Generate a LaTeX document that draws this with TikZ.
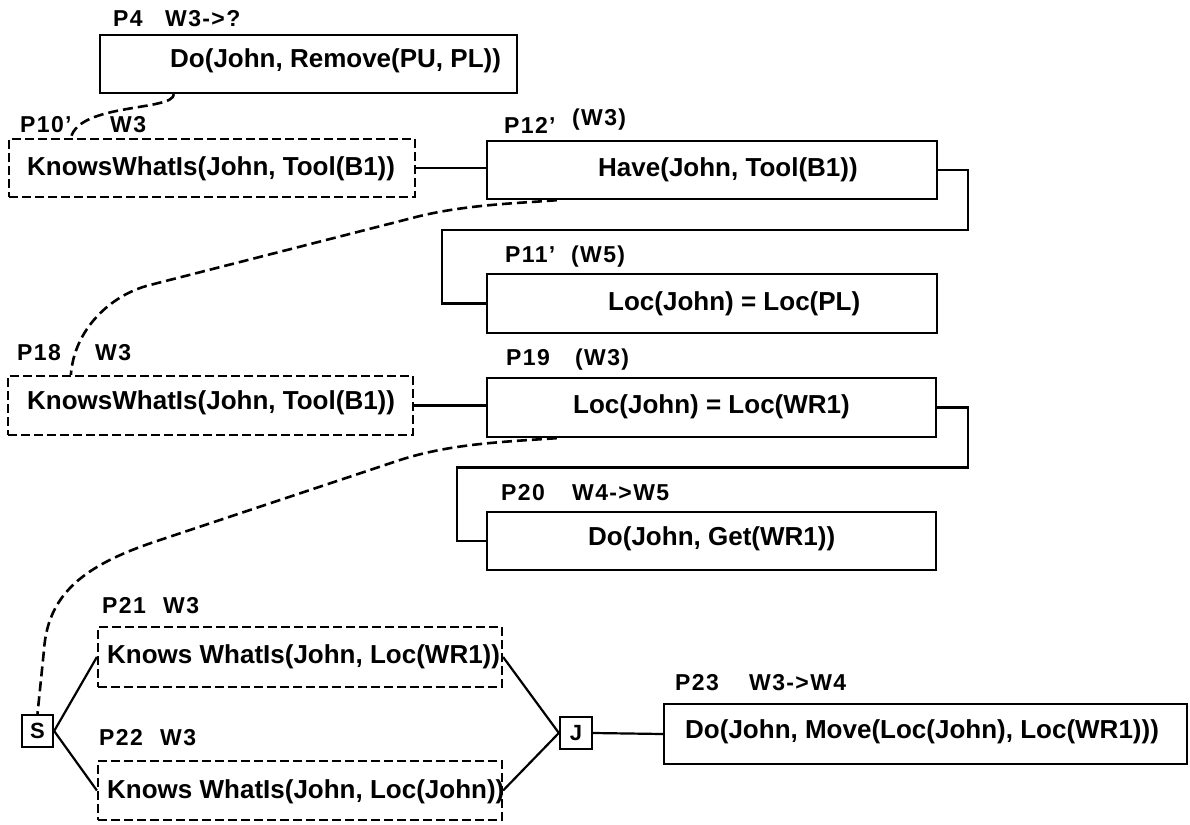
\documentclass[tikz,border=0pt]{standalone}
\usepackage{fontspec}
\setmainfont{Liberation Sans}
\newfontfamily\labfont[LetterSpace=6]{Liberation Sans}
\usetikzlibrary{calc}
\tikzset{
  box/.style={draw, line width=2.3pt, inner sep=0pt},
  dbox/.style={draw, line width=2.2pt, dash pattern=on 9pt off 4pt, inner sep=0pt},
  txt/.style={anchor=base west, inner sep=0pt, font=\fontsize{26}{30}\selectfont\bfseries},
  lab/.style={anchor=base west, inner sep=0pt, font=\labfont\fontsize{23}{27}\selectfont\bfseries},
  wire/.style={line width=2.2pt},
  dcurve/.style={line width=2.6pt, dash pattern=on 10pt off 5pt},
  sj/.style={draw, line width=2.3pt, minimum width=31pt, minimum height=32pt, inner sep=0pt, font=\fontsize{22}{24}\selectfont\bfseries},
}
\begin{document}
\begin{tikzpicture}[x=1pt,y=-1pt]
\useasboundingbox (0,0) rectangle (1190,824);

% boxes
\node[box,  minimum width=417pt, minimum height=58pt] (P4)  at (308.5,64) {};
\node[dbox, minimum width=406pt, minimum height=58pt] (P10) at (212,168) {};
\node[box,  minimum width=450pt, minimum height=58pt] (P12) at (712,170) {};
\node[box,  minimum width=450pt, minimum height=59pt] (P11) at (712,303.5) {};
\node[dbox, minimum width=405pt, minimum height=59pt] (P18) at (210.5,405.5) {};
\node[box,  minimum width=449pt, minimum height=59pt] (P19) at (711.5,407.5) {};
\node[box,  minimum width=449pt, minimum height=58pt] (P20) at (711.5,541) {};
\node[dbox, minimum width=404pt, minimum height=60pt] (P21) at (300,657) {};
\node[dbox, minimum width=404pt, minimum height=59pt] (P22) at (300,790.5) {};
\node[box,  minimum width=523pt, minimum height=60pt] (P23) at (925.5,734) {};
\node[sj] (S) at (37.5,731) {S};
\node[sj, minimum width=32pt] (J) at (576,733) {J};

% box texts
\node[txt] (t4)  at (170,68)  {Do(John, Remove(PU, PL))};
\node[txt] (t10) at (27,175)  {KnowsWhatIs(John, Tool(B1))};
\node[txt] (t12) at (598,176) {Have(John, Tool(B1))};
\node[txt] (t11) at (608,310) {Loc(John) = Loc(PL)};
\node[txt] (t18) at (27,409)  {KnowsWhatIs(John, Tool(B1))};
\node[txt] (t19) at (573,413) {Loc(John) = Loc(WR1)};
\node[txt] (t20) at (588,545) {Do(John, Get(WR1))};
\node[txt] (t21) at (107,663) {Knows WhatIs(John, Loc(WR1))};
\node[txt] (t22) at (107,798) {Knows WhatIs(John, Loc(John))};
\node[txt] (t23) at (685,738) {Do(John, Move(Loc(John), Loc(WR1)))};

% labels
\node[lab] (l4a)  at (113,27)  {P4};
\node[lab] (l4b)  at (165,27)  {W3->?};
\node[lab] (l10a) at (20,132)  {P10’};
\node[lab] (l10b) at (110,132) {W3};
\node[lab] (l12a) at (504,133) {P12’};
\node[lab] (l12b) at (572,125) {(W3)};
\node[lab] (l11a) at (505,262) {P11’};
\node[lab] (l11b) at (571,262) {(W5)};
\node[lab] (l18a) at (17,360)  {P18};
\node[lab] (l18b) at (95,360)  {W3};
\node[lab] (l19a) at (506,365) {P19};
\node[lab] (l19b) at (575,365) {(W3)};
\node[lab] (l20a) at (501,500) {P20};
\node[lab] (l20b) at (572,500) {W4->W5};
\node[lab] (l21a) at (102,613) {P21};
\node[lab] (l21b) at (163,613) {W3};
\node[lab] (l22a) at (99,745)  {P22};
\node[lab] (l22b) at (160,745) {W3};
\node[lab] (l23a) at (675,690) {P23};
\node[lab] (l23b) at (749,690) {W3->W4};

% solid connectors
\draw[wire] (P10.east) -- (P10.east -| P12.west);
\draw[wire] (P12.east) -- ++(30,0) -- ++(0,60) -| ([xshift=-44pt]P11.west) -- (P11.west);
\draw[wire] (P18.east) -- (P18.east -| P19.west);
\draw[wire] (P19.east) -- ++(31,0) -- ++(0,60) -| ([xshift=-29pt]P20.west) -- (P20.west);
\draw[wire] (S.east) -- (P21.west);
\draw[wire] (S.east) -- (P22.west);
\draw[wire] (P21.east) -- (J.west);
\draw[wire] (P22.east) -- (J.west);
\draw[wire] (J.east) -- (P23.west);

% dashed connectors
\draw[dcurve] ([xshift=75pt]P4.south west) .. controls +(0,17) and +(8,-35) .. ([xshift=63pt]P10.north west);
\draw[dcurve] ([xshift=71pt]P12.south west) .. controls (525,203) and (470,204) .. (420,216) -- (150,285) .. controls (110,295) and (74,330) .. ([xshift=64pt]P18.north west);
\draw[dcurve] ([xshift=71pt]P19.south west) .. controls (500,442) and (450,444) .. (400,460) -- (160,540) .. controls (90,563) and (48,590) .. (44,650) -- (S.north);
\end{tikzpicture}
\end{document}
